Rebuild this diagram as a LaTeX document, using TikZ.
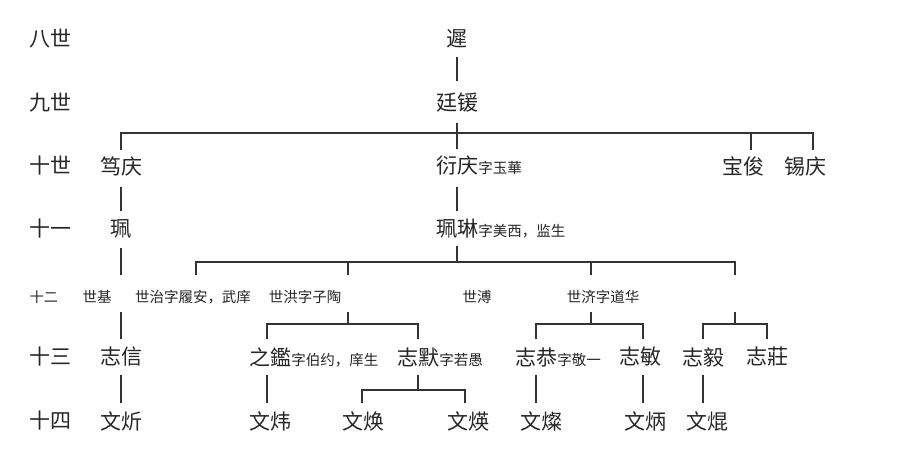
\documentclass[tikz,border=0pt]{standalone}
\usepackage{fontspec}
\newfontfamily\cjk{Noto Sans CJK SC}
\begin{document}
\begin{tikzpicture}[x=1pt,y=-1pt,
  ln/.style={line width=1.8pt, draw=black!80},
  nm/.style={font=\cjk\fontsize{21}{21}\selectfont, inner sep=0pt, text=black!85},
  gens/.style={font=\cjk\fontsize{14}{14}\selectfont, inner sep=0pt, text=black!85},
  sm/.style={font=\cjk\fontsize{14.5}{14.5}\selectfont, inner sep=0pt, text=black!85},
  ann/.style={sm, anchor=base west}]
\fill[white] (0,0) rectangle (898,461);
\useasboundingbox (0,0) rectangle (898,461);

% generation labels
\node[nm] (g8) at (51,39) {八世};
\node[nm] (g9) at (51,103) {九世};
\node[nm] (g10) at (51,166) {十世};
\node[nm] (g11) at (51,229) {十一};
\node[gens] (g12) at (44,297) {十二};
\node[nm] (g13) at (51,357) {十三};
\node[nm] (g14) at (51,421) {十四};

% 8, 9
\node[nm] (n8) at (457,39) {遲};
\node[nm] (n9) at (457,103) {廷锾};

% 10
\node[nm] (n10a) at (121,166) {笃庆};
\node[nm] (n10b) at (457,166) {衍庆};
\node[ann] (n10bz) at (n10b.base east) {字玉華};
\node[nm] (n10c) at (743,166) {宝俊};
\node[nm] (n10d) at (805,166) {锡庆};

% 11
\node[nm] (n11a) at (121,229) {珮};
\node[nm] (n11b) at (457,229) {珮琳};
\node[ann] (n11bz) at (n11b.base east) {字美西，监生};

% 12
\node[sm] (n12a) at (97,297) {世基};
\node[sm] (n12b) at (193,297) {世治字履安，武庠};
\node[sm] (n12c) at (305,297) {世洪字子陶};
\node[sm] (n12d) at (477,297) {世溥};
\node[sm] (n12e) at (603,297) {世济字道华};
\coordinate (u12) at (735,297);

% 13
\node[nm] (n13a) at (121,357) {志信};
\node[nm] (n13b) at (270,357) {之鑑};
\node[ann] (n13bz) at (n13b.base east) {字伯约，庠生};
\node[nm] (n13c) at (418,357) {志默};
\node[ann] (n13cz) at (n13c.base east) {字若愚};
\node[nm] (n13d) at (536,357) {志恭};
\node[ann] (n13dz) at (n13d.base east) {字敬一};
\node[nm] (n13e) at (640,357) {志敏};
\node[nm] (n13f) at (703,357) {志毅};
\node[nm] (n13g) at (767,357) {志莊};

% 14
\node[nm] (n14a) at (121,421) {文炘};
\node[nm] (n14b) at (270,421) {文炜};
\node[nm] (n14c) at (363,421) {文焕};
\node[nm] (n14d) at (468,421) {文煐};
\node[nm] (n14e) at (541,421) {文燦};
\node[nm] (n14f) at (645,421) {文炳};
\node[nm] (n14g) at (707,421) {文焜};

% connectors 8 -> 10
\draw[ln] ([shift={(0,18)}]n8.center) -- ([shift={(0,-22)}]n9.center);
\draw[ln] ([shift={(0,20)}]n9.center) -- ([shift={(0,-17)}]n10b.center);
\draw[ln] ([shift={(0,-16)}]n10a.center) |- ([shift={(8,-33)}]n10d.center) -- ([shift={(8,-16)}]n10d.center);
\draw[ln] ([shift={(8,-33)}]n10c.center) -- ([shift={(8,-16)}]n10c.center);

% 10 -> 11
\draw[ln] ([shift={(0,21)}]n10a.center) -- ([shift={(0,-18)}]n11a.center);
\draw[ln] ([shift={(0,21)}]n10b.center) -- ([shift={(0,-18)}]n11b.center);

% 11 -> 12
\draw[ln] ([shift={(0,19)}]n11a.center) -- ([shift={(24,-22)}]n12a.center);
\draw[ln] ([shift={(24,15)}]n12a.center) -- ([shift={(0,-18)}]n13a.center);
\draw[ln] ([shift={(0,17)}]n11b.center) -- ([shift={(0,33)}]n11b.center);
\draw[ln] ([shift={(3,-22)}]n12b.center) |- ([shift={(0,-35)}]u12) -- ([shift={(0,-22)}]u12);
\draw[ln] ([shift={(43,-35)}]n12c.center) -- ([shift={(43,-22)}]n12c.center);
\draw[ln] ([shift={(-12,-35)}]n12e.center) -- ([shift={(-12,-22)}]n12e.center);

% 12 -> 13
\draw[ln] ([shift={(43,15)}]n12c.center) -- ([shift={(43,27)}]n12c.center);
\draw[ln] ([shift={(-3,-18)}]n13b.center) |- ([shift={(0,-33)}]n13c.center) -- ([shift={(0,-18)}]n13c.center);
\draw[ln] ([shift={(-12,15)}]n12e.center) -- ([shift={(-12,27)}]n12e.center);
\draw[ln] ([shift={(0,-18)}]n13d.center) |- ([shift={(3,-33)}]n13e.center) -- ([shift={(3,-18)}]n13e.center);
\draw[ln] ([shift={(0,15)}]u12) -- ([shift={(0,27)}]u12);
\draw[ln] ([shift={(0,-18)}]n13f.center) |- ([shift={(0,-33)}]n13g.center) -- ([shift={(0,-18)}]n13g.center);

% 13 -> 14
\draw[ln] ([shift={(0,18)}]n13a.center) -- ([shift={(0,-18)}]n14a.center);
\draw[ln] ([shift={(-3,18)}]n13b.center) -- ([shift={(-3,-18)}]n14b.center);
\draw[ln] ([shift={(0,18)}]n13c.center) -- ([shift={(0,33)}]n13c.center);
\draw[ln] ([shift={(-1,-18)}]n14c.center) |- ([shift={(0,33)}]n13c.center) -| ([shift={(-3,-18)}]n14d.center);
\draw[ln] ([shift={(0,18)}]n13d.center) -- ([shift={(-5,-18)}]n14e.center);
\draw[ln] ([shift={(3,18)}]n13e.center) -- ([shift={(-2,-18)}]n14f.center);
\draw[ln] ([shift={(0,18)}]n13f.center) -- ([shift={(-4,-18)}]n14g.center);
\end{tikzpicture}
\end{document}
